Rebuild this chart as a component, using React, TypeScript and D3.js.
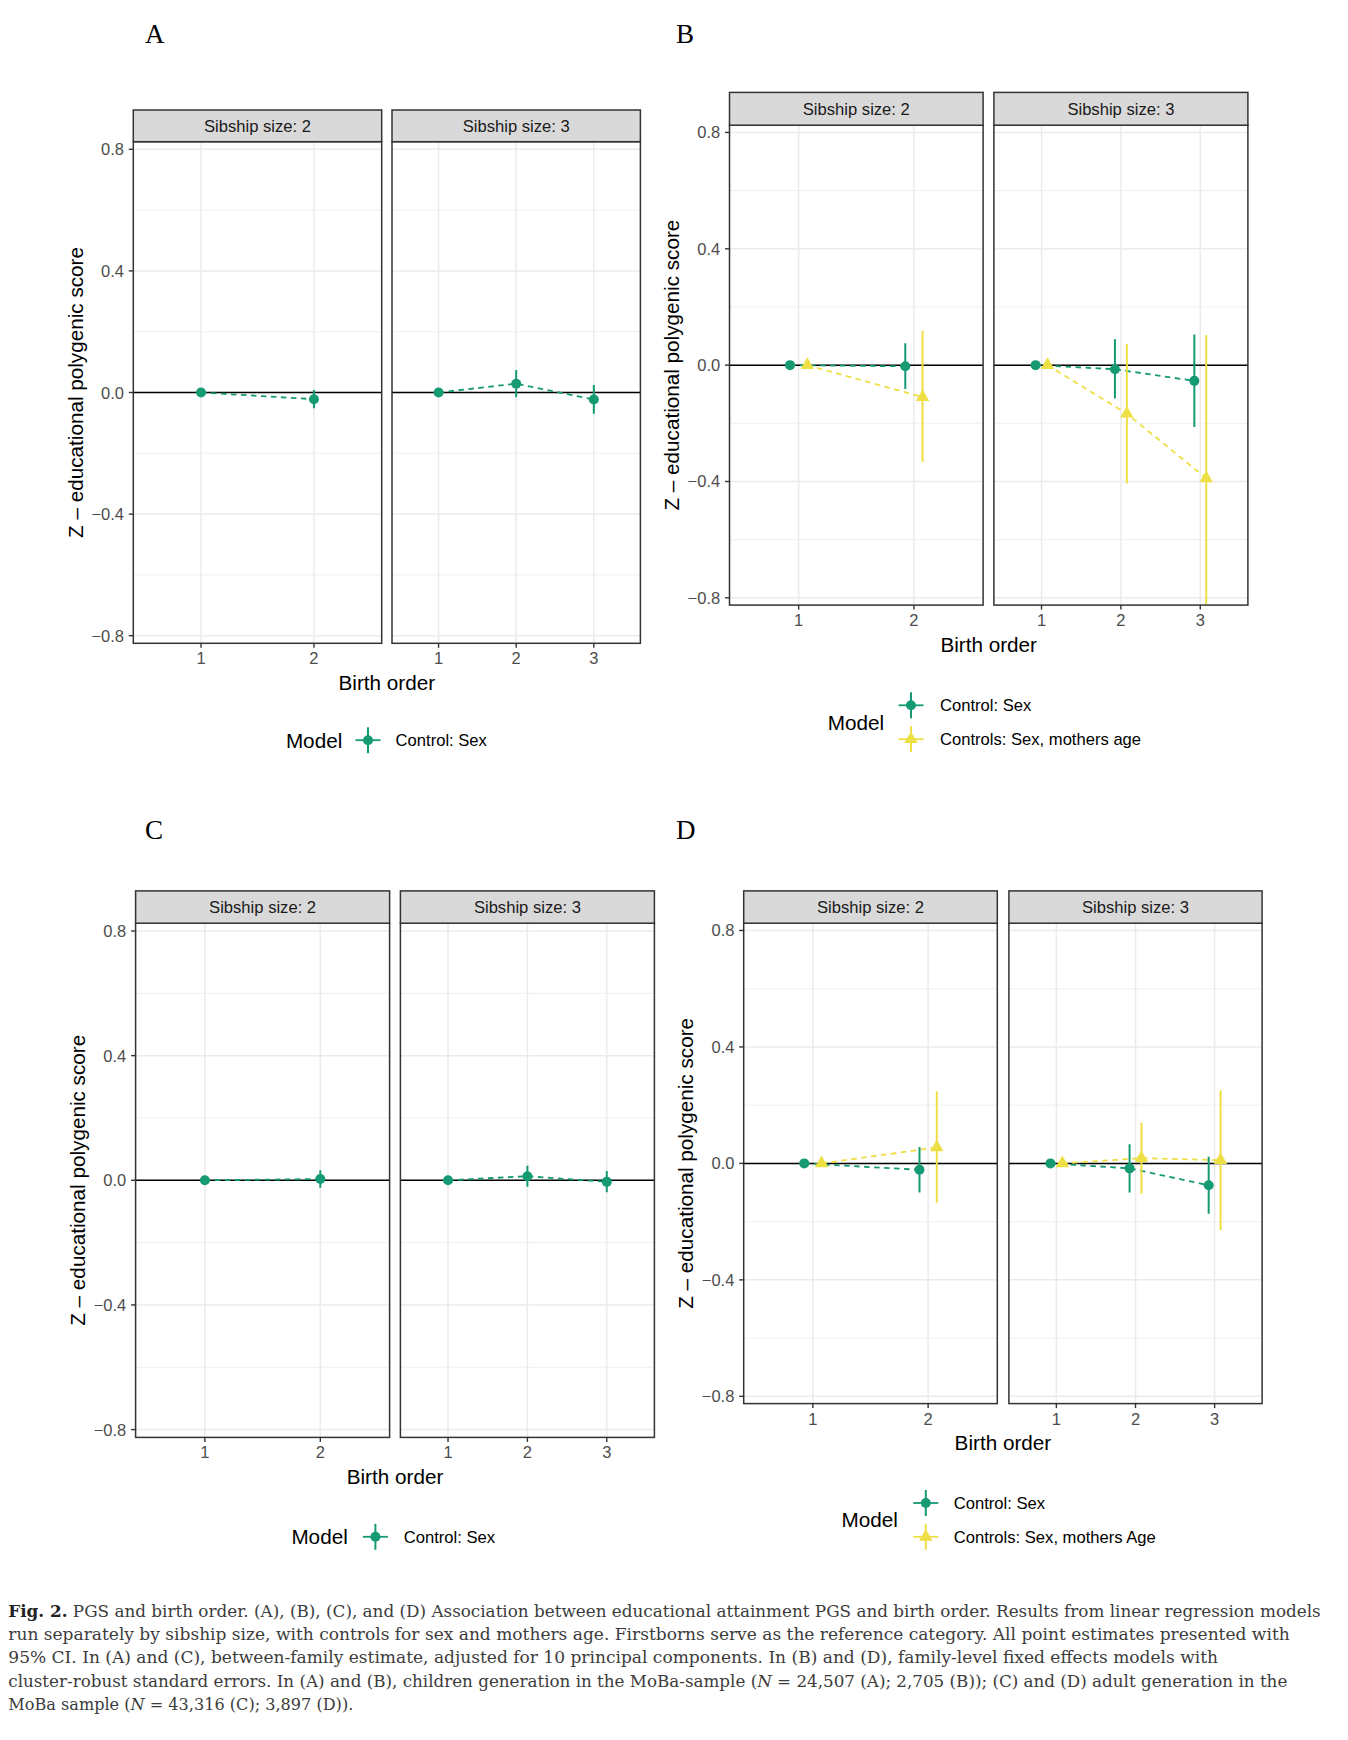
import React from "react";
import * as d3 from "d3";

// ---------- categories / tick labels ----------
const sibshipLabels = ["Sibship size: 2", "Sibship size: 3"];
const birthOrderS2 = ["1", "2"];
const birthOrderS3 = ["1", "2", "3"];
const yTicks = [-0.8, -0.4, 0, 0.4, 0.8];
const yMinorTicks = [-0.6, -0.2, 0.2, 0.6];
const panelLetters = ["A", "B", "C", "D"];
const modelsSexOnly = ["Control: Sex"];
const modelsB = ["Control: Sex", "Controls: Sex, mothers age"];
const modelsD = ["Control: Sex", "Controls: Sex, mothers Age"];

// ---------- data: [estimate, lower 95% CI, upper 95% CI] per birth order ----------
type Row = [number, number, number];
const aSex2: Row[] = [[0, 0, 0], [-0.022, -0.052, 0.008]];
const aSex3: Row[] = [[0, 0, 0], [0.029, -0.016, 0.074], [-0.023, -0.07, 0.025]];

const bSex2: Row[] = [[0, 0, 0], [-0.004, -0.082, 0.075]];
const bAge2: Row[] = [[0, 0, 0], [-0.11, -0.333, 0.118]];
const bSex3: Row[] = [[0, 0, 0], [-0.014, -0.115, 0.089], [-0.054, -0.213, 0.105]];
const bAge3: Row[] = [[0, 0, 0], [-0.167, -0.407, 0.073], [-0.389, -0.88, 0.104]];

const cSex2: Row[] = [[0, 0, 0], [0.004, -0.024, 0.032]];
const cSex3: Row[] = [[0, 0, 0], [0.013, -0.021, 0.047], [-0.005, -0.038, 0.03]];

const dSex2: Row[] = [[0, 0, 0], [-0.022, -0.1, 0.056]];
const dAge2: Row[] = [[0, 0, 0], [0.055, -0.135, 0.248]];
const dSex3: Row[] = [[0, 0, 0], [-0.017, -0.1, 0.066], [-0.075, -0.173, 0.023]];
const dAge3: Row[] = [[0, 0, 0], [0.018, -0.104, 0.14], [0.011, -0.229, 0.251]];

const captionLines = [
  "PGS and birth order. (A), (B), (C), and (D) Association between educational attainment PGS and birth order. Results from linear regression models",
  "run separately by sibship size, with controls for sex and mothers age. Firstborns serve as the reference category. All point estimates presented with",
  "95% CI. In (A) and (C), between-family estimate, adjusted for 10 principal components. In (B) and (D), family-level fixed effects models with",
];

// ---------- styling ----------
const FONT = "'Liberation Sans', Arial, Helvetica, sans-serif";
const COLORS = ["#159A74", "#EEDF45"];
const SHAPES = ["circle", "triangle"];
const Y_DOMAIN: [number, number] = [-0.825, 0.825];
const PT_R = 5;

interface Layout {
  letterX: number;
  letterY: number;
  panels: [number, number][];
  stripTop: number;
  panelTop: number;
  panelBottom: number;
  legendTitleX: number;
  legendKeyX: number;
  legendKeyYs: number[];
  legendLabelX: number;
}

function Marker({ shape, cx, cy, color }: { shape: string; cx: number; cy: number; color: string }) {
  if (shape === "triangle") {
    const s = PT_R;
    const pts = [
      [cx, cy - 1.5551 * s],
      [cx + 1.3468 * s, cy + 0.7776 * s],
      [cx - 1.3468 * s, cy + 0.7776 * s],
    ];
    return <polygon points={pts.map((p) => p.join(",")).join(" ")} fill={color} />;
  }
  return <circle cx={cx} cy={cy} r={PT_R} fill={color} />;
}

function Panel({
  id,
  x0,
  x1,
  top,
  bottom,
  stripTop,
  strip,
  cats,
  rows,
  showY,
}: {
  id: string;
  x0: number;
  x1: number;
  top: number;
  bottom: number;
  stripTop: number;
  strip: string;
  cats: string[];
  rows: Row[][];
  showY: boolean;
}) {
  const x = d3.scaleLinear().domain([0.4, cats.length + 0.6]).range([x0, x1]);
  const y = d3.scaleLinear().domain(Y_DOMAIN).range([bottom, top]);
  const n = rows.length;
  const dodge = (m: number) => (n > 1 ? (m - (n - 1) / 2) * 0.15 : 0);
  return (
    <g>
      <defs>
        <clipPath id={id}>
          <rect x={x0} y={top} width={x1 - x0} height={bottom - top} />
        </clipPath>
      </defs>
      <rect x={x0} y={top} width={x1 - x0} height={bottom - top} fill="#fff" />
      <g clipPath={`url(#${id})`}>
        {yMinorTicks.map((t) => (
          <line key={"mn" + t} x1={x0} x2={x1} y1={y(t)} y2={y(t)} stroke="#EBEBEB" strokeWidth={0.8} />
        ))}
        {yTicks.map((t) => (
          <line key={"mj" + t} x1={x0} x2={x1} y1={y(t)} y2={y(t)} stroke="#EBEBEB" strokeWidth={1.5} />
        ))}
        {cats.map((c, i) => (
          <line key={"xv" + c} x1={x(i + 1)} x2={x(i + 1)} y1={top} y2={bottom} stroke="#EBEBEB" strokeWidth={1.5} />
        ))}
        <line x1={x0} x2={x1} y1={y(0)} y2={y(0)} stroke="#000" strokeWidth={1.5} />
        {rows.map((r, m) => {
          const path = d3
            .line<Row>()
            .x((_, i) => x(i + 1 + dodge(m)))
            .y((d) => y(d[0]))(r);
          return (
            <path
              key={"ln" + m}
              d={path || ""}
              fill="none"
              stroke={COLORS[m]}
              strokeWidth={1.8}
              strokeDasharray="5.5,4.5"
            />
          );
        })}
        {rows.map((r, m) => (
          <g key={"pr" + m}>
            {r.map((d, i) => {
              const cx = x(i + 1 + dodge(m));
              return (
                <g key={i}>
                  <line x1={cx} x2={cx} y1={y(d[1])} y2={y(d[2])} stroke={COLORS[m]} strokeWidth={2} />
                  <Marker shape={SHAPES[m]} cx={cx} cy={y(d[0])} color={COLORS[m]} />
                </g>
              );
            })}
          </g>
        ))}
      </g>
      <rect x={x0} y={top} width={x1 - x0} height={bottom - top} fill="none" stroke="#333" strokeWidth={1.5} />
      <rect x={x0} y={stripTop} width={x1 - x0} height={top - stripTop} fill="#D9D9D9" stroke="#333" strokeWidth={1.5} />
      <text
        x={(x0 + x1) / 2}
        y={(stripTop + top) / 2 + 6}
        textAnchor="middle"
        fontSize={16.6}
        fill="#1A1A1A"
        fontFamily={FONT}
      >
        {strip}
      </text>
      {cats.map((c, i) => (
        <g key={"xt" + c}>
          <line x1={x(i + 1)} x2={x(i + 1)} y1={bottom} y2={bottom + 4.5} stroke="#333" strokeWidth={1.4} />
          <text x={x(i + 1)} y={bottom + 21} textAnchor="middle" fontSize={16.5} fill="#4D4D4D" fontFamily={FONT}>
            {c}
          </text>
        </g>
      ))}
      {showY &&
        yTicks.map((t) => (
          <g key={"yt" + t}>
            <line x1={x0 - 4.5} x2={x0} y1={y(t)} y2={y(t)} stroke="#333" strokeWidth={1.4} />
            <text x={x0 - 9.3} y={y(t) + 6} textAnchor="end" fontSize={16.5} fill="#4D4D4D" fontFamily={FONT}>
              {d3.format(".1f")(t).replace("-", "\u2212")}
            </text>
          </g>
        ))}
    </g>
  );
}

function Figure({
  idx,
  layout,
  models,
  series,
}: {
  idx: number;
  layout: Layout;
  models: string[];
  series: Row[][][];
}) {
  const L = layout;
  const cats = [birthOrderS2, birthOrderS3];
  const left = L.panels[0][0];
  const right = L.panels[1][1];
  const midY = (L.panelTop + L.panelBottom) / 2;
  const titleCy = L.legendKeyYs.reduce((a, b) => a + b, 0) / L.legendKeyYs.length;
  return (
    <g>
      <text x={L.letterX} y={L.letterY} fontSize={27} fontFamily="'Liberation Serif', 'Times New Roman', serif" fill="#000">
        {panelLetters[idx]}
      </text>
      {L.panels.map((p, j) => (
        <Panel
          key={j}
          id={`clip-${idx}-${j}`}
          x0={p[0]}
          x1={p[1]}
          top={L.panelTop}
          bottom={L.panelBottom}
          stripTop={L.stripTop}
          strip={sibshipLabels[j]}
          cats={cats[j]}
          rows={series[j]}
          showY={j === 0}
        />
      ))}
      <text
        transform={`translate(${left - 58 + 7.4},${midY}) rotate(-90)`}
        textAnchor="middle"
        fontSize={20.7}
        fontFamily={FONT}
        fill="#000"
      >
        Z – educational polygenic score
      </text>
      <text x={(left + right) / 2} y={L.panelBottom + 46.8} textAnchor="middle" fontSize={20.7} fontFamily={FONT} fill="#000">
        Birth order
      </text>
      <text x={L.legendTitleX} y={titleCy + 7.4} fontSize={20.7} fontFamily={FONT} fill="#000">
        Model
      </text>
      {models.map((m, k) => {
        const kx = L.legendKeyX;
        const ky = L.legendKeyYs[k];
        return (
          <g key={m}>
            <line x1={kx - 12.5} x2={kx + 12.5} y1={ky} y2={ky} stroke={COLORS[k]} strokeWidth={1.8} />
            <line x1={kx} x2={kx} y1={ky - 13} y2={ky + 13} stroke={COLORS[k]} strokeWidth={2} />
            <Marker shape={SHAPES[k]} cx={kx} cy={ky} color={COLORS[k]} />
            <text x={L.legendLabelX} y={ky + 6} fontSize={16.6} fontFamily={FONT} fill="#000">
              {m}
            </text>
          </g>
        );
      })}
    </g>
  );
}

const layoutA: Layout = {
  letterX: 145,
  letterY: 43.2,
  panels: [
    [133.3, 381.7],
    [392, 640.4],
  ],
  stripTop: 110,
  panelTop: 141.7,
  panelBottom: 643.3,
  legendTitleX: 285.9,
  legendKeyX: 368,
  legendKeyYs: [740.2],
  legendLabelX: 395.6,
};
const layoutB: Layout = {
  letterX: 676,
  letterY: 43.2,
  panels: [
    [729.5, 983.1],
    [993.9, 1247.9],
  ],
  stripTop: 92.4,
  panelTop: 125.2,
  panelBottom: 605.1,
  legendTitleX: 827.7,
  legendKeyX: 911,
  legendKeyYs: [705.3, 739.2],
  legendLabelX: 940,
};
const layoutC: Layout = {
  letterX: 145,
  letterY: 839,
  panels: [
    [135.6, 389.6],
    [400.4, 654.4],
  ],
  stripTop: 890.9,
  panelTop: 923.2,
  panelBottom: 1437.4,
  legendTitleX: 291.4,
  legendKeyX: 375.4,
  legendKeyYs: [1536.8],
  legendLabelX: 403.8,
};
const layoutD: Layout = {
  letterX: 676,
  letterY: 839,
  panels: [
    [743.7, 997.3],
    [1008.9, 1262.1],
  ],
  stripTop: 890.9,
  panelTop: 923.2,
  panelBottom: 1403.6,
  legendTitleX: 841.5,
  legendKeyX: 925.8,
  legendKeyYs: [1503, 1536.8],
  legendLabelX: 953.8,
};

function Caption() {
  const ff = "'DejaVu Serif', serif";
  const col = "#3C3C3C";
  const base = 1616.7;
  const step = 23.3;
  const widths = [1312.4, 1281.4, 1209.7, 1279, 345];
  return (
    <g fontFamily={ff} fontSize={16} fill={col}>
      <text x={8.3} y={base} textLength={widths[0]} lengthAdjust="spacingAndGlyphs">
        <tspan fontWeight="bold" fill="#222">Fig. 2.</tspan> {captionLines[0]}
      </text>
      <text x={8.3} y={base + step} textLength={widths[1]} lengthAdjust="spacingAndGlyphs">
        {captionLines[1]}
      </text>
      <text x={8.3} y={base + 2 * step} textLength={widths[2]} lengthAdjust="spacingAndGlyphs">
        {captionLines[2]}
      </text>
      <text x={8.3} y={base + 3 * step} textLength={widths[3]} lengthAdjust="spacingAndGlyphs">
        cluster-robust standard errors. In (A) and (B), children generation in the MoBa-sample (<tspan fontStyle="italic">N</tspan> = 24,507 (A); 2,705 (B)); (C) and (D) adult generation in the
      </text>
      <text x={8.3} y={base + 4 * step} textLength={widths[4]} lengthAdjust="spacingAndGlyphs">
        MoBa sample (<tspan fontStyle="italic">N</tspan> = 43,316 (C); 3,897 (D)).
      </text>
    </g>
  );
}

export default function App() {
  return (
    <svg
      width={1348}
      height={1740}
      viewBox="0 0 1348 1740"
      style={{ position: "absolute", left: 0, top: 0, display: "block", background: "#fff" }}
    >
      <rect x={0} y={0} width={1348} height={1740} fill="#fff" />
      <Figure idx={0} layout={layoutA} models={modelsSexOnly} series={[[aSex2], [aSex3]]} />
      <Figure idx={1} layout={layoutB} models={modelsB} series={[[bSex2, bAge2], [bSex3, bAge3]]} />
      <Figure idx={2} layout={layoutC} models={modelsSexOnly} series={[[cSex2], [cSex3]]} />
      <Figure idx={3} layout={layoutD} models={modelsD} series={[[dSex2, dAge2], [dSex3, dAge3]]} />
      <Caption />
    </svg>
  );
}
